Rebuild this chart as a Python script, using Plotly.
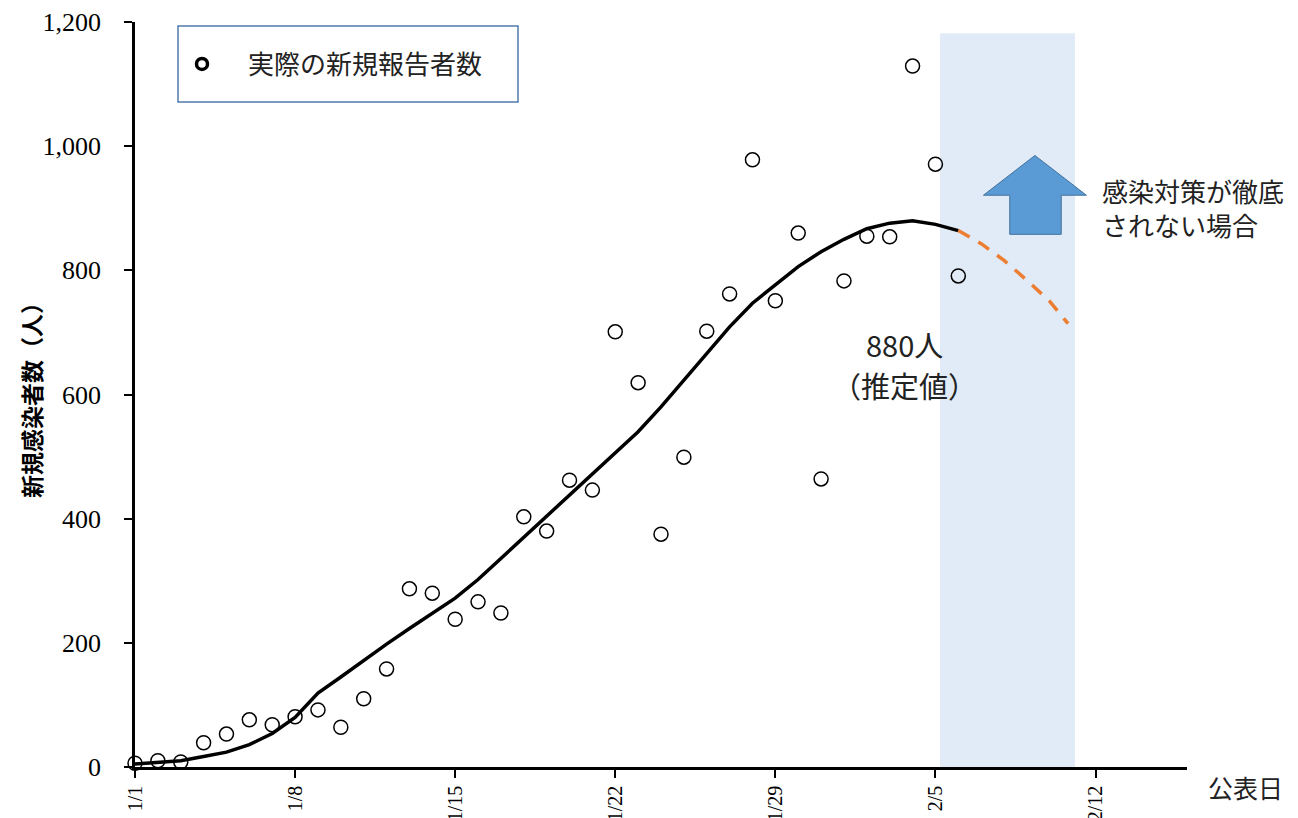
import plotly.graph_objects as go

# ---- data ----
tick_days = [0, 7, 14, 21, 28, 35, 42]
tick_labels = ["1/1", "1/8", "1/15", "1/22", "1/29", "2/5", "2/12"]

report_days = list(range(0, 37))
report_values = [6, 10, 8, 39, 53, 76, 68, 81, 92, 64, 110, 158, 287, 280, 238,
                 266, 248, 403, 380, 462, 446, 701, 619, 375, 499, 702, 762, 978,
                 751, 860, 464, 783, 855, 854, 1129, 971, 791]

est_days = list(range(0, 37))
est_values = [5, 7, 10, 17, 24, 36, 54, 80, 119, 145, 172, 198, 223, 248, 272,
              302, 336, 369, 403, 438, 472, 505, 540, 580, 623, 667, 709, 747,
              776, 806, 830, 850, 867, 876, 880, 874, 864]

proj_days = [36, 37, 38, 39, 40, 40.8]
proj_values = [864, 843, 816, 784, 750, 714]

shade_range = [35.2, 41.1]
shade_top = 1182

legend_name = "実際の新規報告者数"
y_title = "新規感染者数（人）"
peak_label_1 = "880人"
peak_label_2 = "（推定値）"
arrow_label = "感染対策が徹底<br>されない場合"

JP = "Noto Sans CJK JP"
SERIF = "Liberation Serif"

fig = go.Figure()

fig.add_trace(go.Scatter(
    x=est_days, y=est_values, mode="lines",
    line=dict(color="black", width=3.5), showlegend=False, hoverinfo="skip"))

fig.add_trace(go.Scatter(
    x=proj_days, y=proj_values, mode="lines",
    line=dict(color="#ed7d31", width=3.5, dash="13px,10px"), showlegend=False,
    hoverinfo="skip"))

fig.add_trace(go.Scatter(
    x=report_days, y=report_values, mode="markers",
    marker=dict(symbol="circle-open", size=14, color="black",
                line=dict(color="black", width=1.5)),
    showlegend=False, cliponaxis=False))

# legend entry (bold small circle as in reference)
fig.add_trace(go.Scatter(
    x=[None], y=[None], mode="markers", name="\u3000" + legend_name,
    marker=dict(symbol="circle-open", size=11, color="black",
                line=dict(color="black", width=3.5)),
    showlegend=True))

# shaded projection period
fig.add_shape(type="rect", xref="x", yref="y",
              x0=shade_range[0], x1=shade_range[1], y0=0, y1=shade_top,
              fillcolor="#e0ebf7", line=dict(width=0), layer="below")

# legend box
fig.add_shape(type="rect", xref="paper", yref="paper",
              x0=(178 - 135) / 1052, x1=(518 - 135) / 1052,
              y0=(767 - 102) / 745, y1=(767 - 26) / 745,
              fillcolor="white", line=dict(color="#4f7bab", width=1.5),
              layer="below")

# upward arrow
ax = [39.35, 41.6, 40.5, 40.5, 38.25, 38.25, 37.1]
ay = [985, 921, 921, 858, 858, 921, 921]
path = "M " + " L ".join(f"{x},{y}" for x, y in zip(ax, ay)) + " Z"
fig.add_shape(type="path", xref="x", yref="y", path=path,
              fillcolor="#5b9bd5", line=dict(color="#41719c", width=1))


def px_x(p):
    return (p - 135) / 1052


def px_y(p):
    return (767 - p) / 745


fig.update_layout(
    width=1298, height=818,
    margin=dict(l=135, r=111, t=22, b=51, autoexpand=False),
    paper_bgcolor="white", plot_bgcolor="white",
    hovermode=False,
    showlegend=True,
    legend=dict(x=px_x(182), y=px_y(64), xanchor="left",
                yanchor="middle", bgcolor="rgba(0,0,0,0)", borderwidth=0,
                font=dict(family=JP, size=26, color="#222")),
    xaxis=dict(range=[0, 46], tickvals=tick_days, ticktext=tick_labels,
               tickangle=-90, ticks="outside", ticklen=8, tickwidth=1.5,
               tickcolor="black", showline=True, linecolor="black",
               linewidth=2.5, showgrid=False, zeroline=False,
               automargin=False, ticklabelstandoff=0,
               tickfont=dict(family=SERIF, size=20, color="black")),
    yaxis=dict(range=[0, 1200], tickvals=[0, 200, 400, 600, 800, 1000, 1200],
               ticktext=["0", "200", "400", "600", "800", "1,000", "1,200"],
               ticks="outside", ticklen=8, tickwidth=1.5, tickcolor="black",
               showline=True, linecolor="black", linewidth=2.5,
               showgrid=False, zeroline=False, automargin=False,
               ticklabelstandoff=18,
               tickfont=dict(family=SERIF, size=26, color="black")),
    annotations=[
        dict(text=y_title, textangle=-90, xref="paper", yref="paper",
             x=px_x(31), y=px_y(395), xanchor="center", yanchor="middle",
             showarrow=False,
             font=dict(family=JP, size=23, color="black", weight="bold")),
        dict(text="公表日", xref="paper", yref="paper",
             x=px_x(1245), y=px_y(787), xanchor="center", yanchor="middle",
             showarrow=False,
             font=dict(family=JP, size=25, color="#222")),
        dict(text=peak_label_1, xref="paper", yref="paper",
             x=px_x(904), y=px_y(344), xanchor="center", yanchor="middle",
             showarrow=False,
             font=dict(family=JP, size=29, color="#222")),
        dict(text=peak_label_2, xref="paper", yref="paper",
             x=px_x(904), y=px_y(385), xanchor="center", yanchor="middle",
             showarrow=False,
             font=dict(family=JP, size=29, color="#222")),
        dict(text=arrow_label, xref="paper", yref="paper",
             x=px_x(1100), y=px_y(208), xanchor="left", yanchor="middle",
             showarrow=False, align="left",
             font=dict(family=JP, size=26, color="#222")),
    ],
)

fig.write_html("out.html")
